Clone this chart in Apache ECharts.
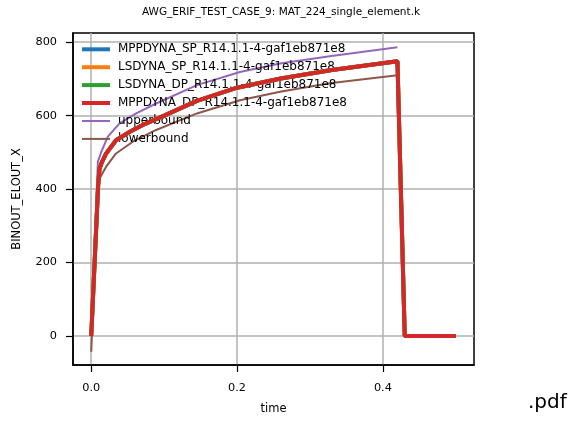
<!DOCTYPE html>
<html>
<head>
<meta charset="utf-8">
<script src="https://cdn.jsdelivr.net/npm/echarts@6/dist/echarts.min.js"></script>
<style>html,body{margin:0;padding:0;background:#fff}#c{width:570px;height:422px}</style>
</head>
<body>
<div id="c"></div>
<script>
const seriesNames = ['MPPDYNA_SP_R14.1.1-4-gaf1eb871e8','LSDYNA_SP_R14.1.1-4-gaf1eb871e8','LSDYNA_DP_R14.1.1-4-gaf1eb871e8','MPPDYNA_DP_R14.1.1-4-gaf1eb871e8','upperbound','lowerbound'];
const simTime = [0, 0.0095, 0.0114, 0.015, 0.0205, 0.034, 0.053, 0.07, 0.1, 0.145, 0.2, 0.26, 0.33, 0.42, 0.43, 0.5];
const mppSpValue = [0, 410, 456, 475, 497, 533, 556, 574, 600, 640, 676, 701, 724, 748, 0, 0];
const lsSpValue  = [0, 410, 456, 475, 497, 533, 556, 574, 600, 640, 676, 701, 724, 748, 0, 0];
const lsDpValue  = [0, 410, 456, 475, 497, 533, 556, 574, 600, 640, 676, 701, 724, 748, 0, 0];
const mppDpValue = [0, 410, 456, 475, 497, 533, 556, 574, 600, 640, 676, 701, 724, 748, 0, 0];
const upperTime  = [0, 0.0091, 0.0137, 0.0228, 0.0388, 0.0616, 0.089, 0.145, 0.204, 0.259, 0.327, 0.42];
const upperValue = [0, 474, 501, 543, 579, 606, 633, 683, 719, 742, 762, 786];
const lowerTime  = [0, 0.0096, 0.0114, 0.0205, 0.034, 0.057, 0.089, 0.145, 0.204, 0.259, 0.327, 0.42, 0.43, 0.5];
const lowerValue = [-43, 405, 429, 461, 497, 529, 561, 606, 642, 665, 688, 710, 0, 0];
const xTicks = [0, 0.2, 0.4];
const yTicks = [0, 200, 400, 600, 800];

const colors = ['#1f77b4','#ff7f0e','#2ca02c','#d62728','#9467bd','#8c564b'];
const zip = (t, v) => t.map((x, i) => [x, v[i]]);
const FONT = 'DejaVu Sans';

const chart = echarts.init(document.getElementById('c'), null, {renderer: 'canvas'});
const simVals = [mppSpValue, lsSpValue, lsDpValue, mppDpValue];
const series = [];
series.push({name: seriesNames[4], type: 'line', data: zip(upperTime, upperValue), showSymbol: false, symbol: 'none',
  lineStyle: {color: colors[4], width: 2}, itemStyle: {color: colors[4]}, z: 2, animation: false});
series.push({name: seriesNames[5], type: 'line', data: zip(lowerTime, lowerValue), showSymbol: false, symbol: 'none',
  lineStyle: {color: colors[5], width: 2}, itemStyle: {color: colors[5]}, z: 2, animation: false});
simVals.forEach((v, i) => series.push({name: seriesNames[i], type: 'line', data: zip(simTime, v), showSymbol: false, symbol: 'none',
  lineStyle: {color: colors[i], width: 4}, itemStyle: {color: colors[i]}, z: 3 + i, animation: false}));

const axisCommon = {
  splitLine: {show: true, lineStyle: {color: '#b0b0b0', width: 1.5}},
  nameTextStyle: {color: '#000', fontFamily: FONT, fontSize: 11.5}
};
const tickStyle = {show: true, inside: false, length: 7, lineStyle: {color: '#000', width: 1.2}};
const labelStyle = {color: '#000', fontFamily: FONT, fontSize: 11.3};

chart.setOption({
  animation: false,
  backgroundColor: '#fff',
  title: {text: 'AWG_ERIF_TEST_CASE_9: MAT_224_single_element.k', left: 281, top: 7, textAlign: 'center', padding: 0,
    textStyle: {color: '#000', fontFamily: FONT, fontSize: 10.5, fontWeight: 'normal'}},
  grid: {left: 73, right: 96, top: 33, bottom: 57, outerBoundsMode: 'none', containLabel: false,
    show: true, borderColor: '#000', borderWidth: 1.5, backgroundColor: 'transparent'},
  legend: [
    {data: seriesNames.slice(0, 4), orient: 'vertical', left: 82, top: 42.3, padding: 0, icon: 'rect', itemWidth: 28, itemHeight: 4, itemGap: 3.9,
      textStyle: {color: '#000', fontFamily: FONT, fontSize: 12, lineHeight: 14, padding: [0,0,0,3]}, selectedMode: false},
    {data: seriesNames.slice(4), orient: 'vertical', left: 82, top: 114, padding: 0, icon: 'rect', itemWidth: 28, itemHeight: 2, itemGap: 3.9,
      textStyle: {color: '#000', fontFamily: FONT, fontSize: 12, lineHeight: 14, padding: [0,0,0,3]}, selectedMode: false}
  ],
  xAxis: Object.assign({}, axisCommon, {
    type: 'value', min: -0.025, max: 0.525, name: 'time', nameLocation: 'middle', nameGap: 38,
    axisTick: Object.assign({}, tickStyle, {customValues: xTicks}),
    axisLabel: Object.assign({}, labelStyle, {customValues: xTicks, margin: 18, formatter: v => v.toFixed(1)}),
    axisLine: {show: true, onZero: false, lineStyle: {color: '#000', width: 1.5}}
  }),
  yAxis: Object.assign({}, axisCommon, {
    type: 'value', min: -79, max: 825, name: 'BINOUT_ELOUT_X', nameLocation: 'middle', nameGap: 50, nameRotate: 90,
    axisTick: Object.assign({}, tickStyle, {customValues: yTicks}),
    axisLabel: Object.assign({}, labelStyle, {customValues: yTicks, margin: 16, formatter: v => String(Math.round(v))}),
    axisLine: {show: true, onZero: false, lineStyle: {color: '#000', width: 1.5}}
  }),
  graphic: [{type: 'text', left: 528, top: 393, style: {text: '.pdf', fill: '#000', font: '20px "DejaVu Sans"'}}],
  series: series
});
</script>
</body>
</html>
